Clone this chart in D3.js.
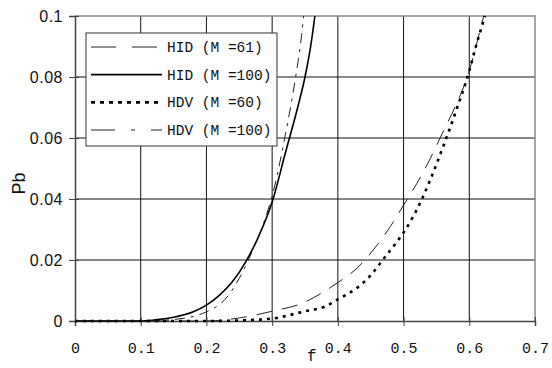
<!DOCTYPE html>
<html>
<head>
<meta charset="utf-8">
<script src="https://cdn.jsdelivr.net/npm/d3@7"></script>
<style>
  body { margin: 0; background: #fff; }
</style>
</head>
<body>
<svg class="pb-chart"></svg>
<script>
// values
const hid61F = [0, 0.2, 0.25, 0.3, 0.35, 0.38, 0.4, 0.43, 0.46, 0.48, 0.5, 0.52, 0.54, 0.56, 0.58, 0.6, 0.61, 0.622];
const hid61P = [0, 0, 0.001, 0.0032, 0.0062, 0.0098, 0.0126, 0.0175, 0.025, 0.031, 0.038, 0.045, 0.053, 0.062, 0.071, 0.082, 0.09, 0.1];

const hid100F = [0, 0.1, 0.12, 0.15, 0.18, 0.2, 0.22, 0.24, 0.26, 0.28, 0.3, 0.32, 0.34, 0.35, 0.36, 0.365];
const hid100P = [0, 0, 0.0003, 0.0012, 0.003, 0.0052, 0.0085, 0.013, 0.0195, 0.028, 0.039, 0.055, 0.071, 0.08, 0.092, 0.1];

const hdv60F = [0, 0.2, 0.25, 0.3, 0.35, 0.38, 0.4, 0.43, 0.45, 0.47, 0.49, 0.5, 0.528, 0.54, 0.56, 0.58, 0.6, 0.61, 0.624];
const hdv60P = [0, 0, 0.0002, 0.0008, 0.0032, 0.0047, 0.0071, 0.011, 0.015, 0.0205, 0.026, 0.029, 0.04, 0.046, 0.057, 0.069, 0.082, 0.09, 0.1];

const hdv100F = [0, 0.1, 0.15, 0.2, 0.23, 0.25, 0.27, 0.29, 0.3, 0.32, 0.335, 0.345, 0.348];
const hdv100P = [0, 0, 0.0005, 0.003, 0.0075, 0.014, 0.023, 0.034, 0.041, 0.061, 0.079, 0.094, 0.1];

const xTicks = [0, 0.1, 0.2, 0.3, 0.4, 0.5, 0.6, 0.7];
const yTicks = [0, 0.02, 0.04, 0.06, 0.08, 0.1];

const seriesNames = ['HID (M =61)', 'HID (M =100)', 'HDV (M =60)', 'HDV (M =100)'];

const svgWidth = 552;
const svgHeight = 368;
const margin = {top: 16, right: 17, bottom: 47, left: 75};
const width = svgWidth - margin.left - margin.right;
const height = svgHeight - margin.top - margin.bottom;

const series = [
    {name: seriesNames[0], f: hid61F, p: hid61P, color: '#222', w: 1, dash: '16,10', legendDash: '25,16'},
    {name: seriesNames[1], f: hid100F, p: hid100P, color: '#000', w: 1.6, dash: null, legendDash: null},
    {name: seriesNames[2], f: hdv60F, p: hdv60P, color: '#000', w: 2.6, dash: '3,5', legendDash: '4,5'},
    {name: seriesNames[3], f: hdv100F, p: hdv100P, color: '#222', w: 1, dash: '10,6,3,6', legendDash: '24,16,4,16'}
];

const svg = d3.select('.pb-chart')
    .attr('width', svgWidth)
    .attr('height', svgHeight);

const g = svg.append('g')
    .attr('transform', `translate(${margin.left}, ${margin.top})`);

const x = d3.scaleLinear().domain([0, 0.7]).range([0, width]);
const y = d3.scaleLinear().domain([0, 0.1]).range([height, 0]);

// grid
g.append('g')
    .selectAll('line')
    .data(xTicks.slice(1, -1))
    .join('line')
    .attr('x1', d => x(d)).attr('x2', d => x(d))
    .attr('y1', 0).attr('y2', height)
    .attr('stroke', '#111').attr('stroke-width', 1);
g.append('g')
    .selectAll('line')
    .data(yTicks.slice(1, -1))
    .join('line')
    .attr('x1', 0).attr('x2', width)
    .attr('y1', d => y(d)).attr('y2', d => y(d))
    .attr('stroke', '#111').attr('stroke-width', 1);

// top / right frame
g.append('path')
    .attr('d', `M0,${y(0.1)}H${x(0.7)}V${height}`)
    .attr('fill', 'none')
    .attr('stroke', '#888')
    .attr('stroke-width', 1.5);

// axes
const xAxis = g.append('g')
    .attr('transform', `translate(0, ${height})`)
    .call(d3.axisBottom(x).tickValues(xTicks).tickSize(5).tickFormat(d3.format('.1~f')));
const yAxis = g.append('g')
    .call(d3.axisLeft(y).tickValues(yTicks).tickSize(6).tickFormat(d => d === 0 ? '0' : d3.format('.2~f')(d)));

[xAxis, yAxis].forEach(a => {
    a.select('.domain').attr('stroke', '#444').attr('stroke-width', 1.5);
    a.selectAll('.tick line').attr('stroke', '#444');
});
xAxis.selectAll('.tick line').attr('y1', -4);
yAxis.selectAll('.tick line').attr('x1', 4);

xAxis.selectAll('.tick text')
    .attr('y', 24)
    .attr('dy', '0.5em')
    .attr('fill', '#111')
    .style('font-family', '"Liberation Mono", monospace')
    .style('font-size', '15px');
yAxis.selectAll('.tick text')
    .attr('x', -12)
    .attr('fill', '#111')
    .style('font-family', '"Liberation Sans", Arial, sans-serif')
    .style('font-size', '16px')
    .style('letter-spacing', '0.5px');

// axis titles
g.append('text')
    .attr('x', x(0.3605))
    .attr('y', height + 40)
    .attr('text-anchor', 'middle')
    .attr('fill', '#111')
    .style('font-family', '"Liberation Mono", monospace')
    .style('font-size', '16px')
    .text('f');
g.append('text')
    .attr('transform', `translate(${25 - margin.left}, ${y(0.05) + 15}) rotate(-90)`)
    .attr('text-anchor', 'middle')
    .attr('fill', '#111')
    .style('font-family', '"Liberation Sans", Arial, sans-serif')
    .style('font-size', '18px')
    .text('Pb');

// curves
const line = d3.line()
    .x(d => x(d[0]))
    .y(d => y(d[1]))
    .curve(d3.curveMonotoneX);

series.forEach(s => {
    g.append('path')
        .datum(s.f.map((f, i) => [f, s.p[i]]))
        .attr('fill', 'none')
        .attr('stroke', s.color)
        .attr('stroke-width', s.w)
        .attr('stroke-dasharray', s.dash)
        .attr('d', line);
});

// legend
const legend = svg.append('g').attr('transform', 'translate(86, 33)');
legend.append('rect')
    .attr('width', 191)
    .attr('height', 113)
    .attr('fill', '#fff')
    .attr('stroke', '#333')
    .attr('stroke-width', 1);

const rowY = d3.scalePoint().domain(seriesNames).range([14, 97]);
const items = legend.selectAll('g.item')
    .data(series)
    .join('g')
    .attr('class', 'item')
    .attr('transform', d => `translate(0, ${rowY(d.name)})`);
items.append('line')
    .attr('x1', 5).attr('x2', 76)
    .attr('stroke', d => d.color)
    .attr('stroke-width', d => d.w)
    .attr('stroke-dasharray', d => d.legendDash);
items.append('text')
    .attr('x', 81)
    .attr('dy', '0.35em')
    .attr('fill', '#111')
    .style('font-family', '"Liberation Mono", monospace')
    .style('font-size', '14.5px')
    .text(d => d.name);
</script>
</body>
</html>
